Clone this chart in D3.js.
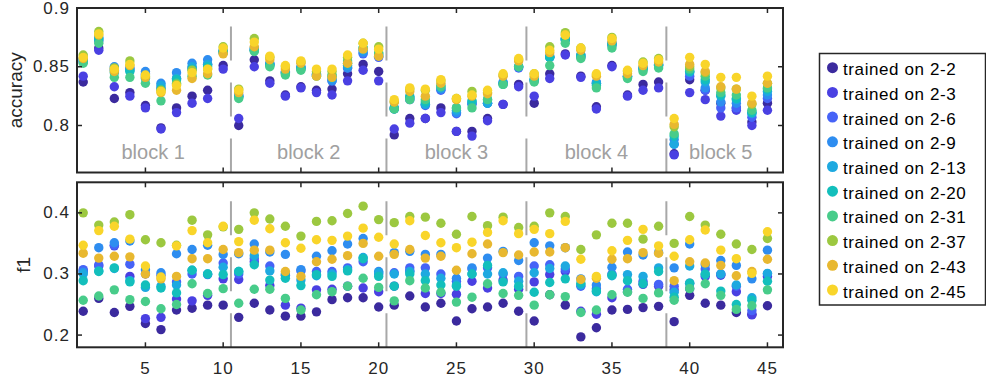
<!DOCTYPE html>
<html><head><meta charset="utf-8">
<script src="https://cdn.jsdelivr.net/npm/d3@7"></script>
<style>body{margin:0;background:#fff}svg{display:block;font-family:"Liberation Sans",Arial,sans-serif}</style>
</head><body><svg id="c" width="986" height="383"></svg>
<script>
const seriesNames = ["trained on 2-2","trained on 2-3","trained on 2-6","trained on 2-9","trained on 2-13","trained on 2-20","trained on 2-31","trained on 2-37","trained on 2-43","trained on 2-45"];
const colors = ["#3b2a9e","#4a40e2","#4663f7","#2e8df0","#1ea9e0","#13bfbc","#48cc8a","#9cc840","#e8b830","#f9d52a"];
const xValues = d3.range(1,46);
const xTicks = [5,10,15,20,25,30,35,40,45];
const accTicks = [0.8,0.85,0.9];
const f1Ticks = [0.2,0.3,0.4];
const blockBounds = [10.5,20.5,29.5,38.5];
const blockLabels = ["block 1","block 2","block 3","block 4","block 5"];
const blockCenters = [5.5,15.5,25,34,42];

// accuracy per x (rows = x 1..45, columns = series order)
const accRows = [
[.837,.842,.854,.857,.856,.855,.853,.860,.857,.858],
[.866,.864,.872,.874,.875,.873,.870,.880,.877,.878],
[.823,.833,.848,.850,.847,.845,.841,.849,.846,.848],
[.828,.825,.848,.849,.847,.846,.841,.855,.851,.852],
[.817,.815,.844,.846,.843,.840,.836,.842,.841,.843],
[.798,.797,.832,.836,.834,.831,.821,.830,.828,.829],
[.815,.811,.840,.845,.840,.839,.836,.835,.830,.834],
[.825,.819,.849,.853,.850,.848,.842,.847,.840,.845],
[.830,.823,.852,.856,.852,.850,.843,.848,.844,.848],
[.851,.848,.862,.864,.863,.863,.862,.867,.861,.866],
[.800,.806,.825,.826,.825,.824,.823,.831,.828,.830],
[.856,.850,.864,.866,.865,.864,.863,.874,.867,.871],
[.838,.836,.852,.853,.852,.851,.850,.858,.856,.859],
[.826,.825,.845,.846,.845,.844,.843,.850,.848,.851],
[.833,.832,.849,.850,.849,.848,.847,.854,.853,.855],
[.830,.828,.843,.844,.843,.843,.842,.846,.842,.848],
[.831,.826,.838,.838,.840,.842,.843,.846,.841,.848],
[.844,.838,.849,.849,.851,.853,.855,.858,.853,.860],
[.852,.847,.861,.862,.864,.866,.866,.870,.865,.870],
[.846,.838,.858,.859,.860,.861,.862,.867,.859,.865],
[.792,.797,.814,.815,.815,.814,.814,.820,.820,.822],
[.806,.802,.822,.823,.825,.824,.822,.831,.829,.832],
[.806,.806,.817,.818,.818,.820,.822,.830,.825,.831],
[.815,.811,.830,.831,.832,.834,.833,.838,.836,.839],
[.795,.795,.810,.811,.813,.815,.815,.823,.822,.823],
[.795,.791,.818,.819,.820,.821,.815,.829,.825,.826],
[.806,.804,.819,.819,.819,.822,.822,.828,.827,.830],
[.818,.818,.836,.837,.836,.835,.835,.843,.842,.844],
[.835,.833,.849,.850,.850,.850,.850,.856,.855,.857],
[.819,.825,.838,.839,.839,.839,.837,.844,.842,.844],
[.844,.840,.858,.859,.858,.858,.851,.867,.862,.864],
[.861,.860,.873,.874,.874,.873,.870,.879,.877,.877],
[.842,.841,.858,.860,.860,.859,.857,.866,.864,.866],
[.816,.814,.836,.837,.836,.834,.832,.843,.842,.844],
[.851,.850,.868,.870,.870,.869,.866,.875,.872,.874],
[.826,.825,.842,.842,.842,.841,.840,.846,.844,.847],
[.835,.830,.848,.849,.849,.848,.846,.854,.851,.853],
[.837,.832,.851,.852,.852,.851,.849,.857,.854,.856],
[.776,.775,.784,.788,.784,.791,.793,.799,.801,.806],
[.839,.828,.842,.845,.846,.846,.848,.850,.852,.858],
[.830,.822,.830,.832,.837,.839,.842,.845,.846,.852],
[.819,.808,.815,.820,.825,.826,.828,.832,.833,.841],
[.815,.813,.815,.819,.822,.823,.826,.831,.831,.841],
[.803,.800,.807,.810,.811,.811,.813,.818,.819,.825],
[.819,.813,.823,.826,.829,.831,.832,.836,.836,.842]
];
const f1Rows = [
[.239,.305,.307,.303,.300,.289,.257,.400,.334,.347],
[.260,.313,.315,.343,.305,.304,.264,.380,.326,.371],
[.237,.346,.347,.351,.309,.310,.274,.385,.329,.378],
[.247,.296,.316,.354,.289,.287,.258,.397,.328,.357],
[.219,.227,.300,.307,.278,.282,.255,.356,.300,.313],
[.209,.229,.298,.302,.280,.277,.243,.351,.292,.295],
[.241,.259,.287,.333,.282,.269,.250,.347,.296,.346],
[.244,.256,.300,.340,.306,.306,.284,.388,.325,.371],
[.249,.265,.299,.347,.300,.300,.268,.364,.325,.351],
[.249,.292,.318,.332,.311,.299,.276,.377,.340,.378],
[.229,.291,.300,.333,.304,.304,.252,.373,.335,.353],
[.252,.320,.325,.349,.330,.315,.275,.400,.339,.388],
[.241,.281,.313,.336,.305,.290,.275,.390,.339,.374],
[.231,.249,.298,.332,.300,.293,.260,.378,.304,.351],
[.231,.244,.305,.307,.290,.281,.241,.362,.296,.342],
[.238,.274,.304,.329,.297,.299,.266,.386,.320,.356],
[.258,.275,.304,.338,.300,.296,.271,.387,.324,.355],
[.261,.280,.310,.349,.307,.305,.280,.399,.330,.362],
[.261,.277,.320,.358,.327,.325,.293,.411,.350,.375],
[.246,.271,.300,.304,.302,.296,.278,.389,.329,.360],
[.249,.280,.302,.335,.300,.280,.256,.384,.332,.349],
[.264,.305,.310,.337,.304,.300,.289,.394,.340,.387],
[.246,.268,.310,.332,.300,.289,.277,.393,.326,.363],
[.252,.268,.300,.332,.293,.282,.270,.383,.329,.351],
[.223,.267,.288,.293,.282,.280,.254,.365,.306,.343],
[.243,.288,.308,.310,.300,.300,.262,.394,.333,.352],
[.246,.277,.310,.326,.300,.314,.284,.379,.349,.368],
[.252,.290,.300,.337,.302,.287,.268,.393,.335,.387],
[.239,.275,.296,.322,.288,.280,.265,.376,.331,.366],
[.223,.287,.313,.351,.302,.270,.249,.378,.336,.373],
[.266,.299,.315,.346,.309,.286,.266,.400,.336,.366],
[.249,.304,.308,.343,.313,.292,.263,.394,.343,.386],
[.197,.239,.280,.292,.282,.285,.237,.340,.291,.324],
[.212,.234,.276,.282,.271,.272,.241,.364,.293,.296],
[.241,.261,.300,.311,.297,.298,.266,.383,.324,.338],
[.242,.271,.275,.336,.299,.289,.270,.383,.325,.355],
[.245,.283,.288,.331,.296,.284,.260,.357,.335,.373],
[.247,.280,.283,.335,.310,.304,.269,.378,.334,.346],
[.222,.274,.280,.310,.270,.262,.257,.350,.289,.329],
[.265,.276,.285,.349,.313,.285,.276,.394,.320,.356],
[.252,.296,.308,.315,.299,.300,.284,.380,.318,.372],
[.249,.298,.300,.322,.300,.272,.265,.365,.314,.339],
[.237,.271,.280,.314,.282,.250,.242,.349,.297,.325],
[.234,.233,.240,.292,.261,.257,.248,.340,.304,.301],
[.248,.296,.300,.339,.301,.288,.274,.358,.324,.369]
];

const svg = d3.select("#c");
const L = 77, R = 783;
const x = d3.scaleLinear().domain([0.6,46]).range([L,R]);
const panels = [
  {rows: accRows, domain:[0.76,0.9], top:8, bottom:172.5, ticks:accTicks, fmt:d=>String(d), label:"accuracy", labelX:22, showX:false},
  {rows: f1Rows, domain:[0.18,0.45], top:182.3, bottom:347.3, ticks:f1Ticks, fmt:d=>String(d), label:"f1", labelX:30, showX:true}
];
const axisColor = "#262626";
const tickLen = 5;

panels.forEach(p => {
  const y = d3.scaleLinear().domain(p.domain).range([p.bottom,p.top]);
  const g = svg.append("g");
  // separators (dashed, from bottom up)
  blockBounds.forEach(b => {
    g.append("line").attr("x1",x(b)).attr("x2",x(b))
      .attr("y1",p.bottom).attr("y2",p.bottom-147)
      .attr("stroke","#a8a8a8").attr("stroke-width",2)
      .attr("stroke-dasharray","34 22");
  });
  if (!p.showX) {
    blockLabels.forEach((t,i) => {
      g.append("text").attr("x",x(blockCenters[i])).attr("y",152)
        .attr("text-anchor","middle").attr("dominant-baseline","central")
        .attr("font-size",20).attr("fill","#a0a0a0").text(t);
    });
  }
  // points
  seriesNames.forEach((s,si) => {
    g.append("g").selectAll("circle").data(xValues).join("circle")
      .attr("cx",d=>x(d)).attr("cy",(d,i)=>y(p.rows[i][si]))
      .attr("r",4.7).attr("fill",colors[si]);
  });
  // axes
  const ax = svg.append("g").attr("stroke",axisColor).attr("stroke-width",1.5);
  xTicks.forEach(t => {
    ax.append("line").attr("x1",x(t)).attr("x2",x(t)).attr("y1",p.bottom).attr("y2",p.bottom-tickLen);
    ax.append("line").attr("x1",x(t)).attr("x2",x(t)).attr("y1",p.top).attr("y2",p.top+tickLen);
  });
  p.ticks.forEach(t => {
    ax.append("line").attr("x1",L).attr("x2",L+tickLen).attr("y1",y(t)).attr("y2",y(t));
    ax.append("line").attr("x1",R).attr("x2",R-tickLen).attr("y1",y(t)).attr("y2",y(t));
    svg.append("text").attr("x",70).attr("y",y(t)).attr("text-anchor","end")
      .attr("dominant-baseline","central").attr("font-size",17).attr("letter-spacing","1px")
      .attr("fill",axisColor).text(p.fmt(t));
  });
  svg.append("rect").attr("x",L).attr("y",p.top).attr("width",R-L).attr("height",p.bottom-p.top)
    .attr("fill","none").attr("stroke",axisColor).attr("stroke-width",2);
  if (p.showX) {
    xTicks.forEach(t => {
      svg.append("text").attr("x",x(t)).attr("y",368).attr("text-anchor","middle")
        .attr("dominant-baseline","central").attr("font-size",17).attr("letter-spacing","1px")
        .attr("fill",axisColor).text(t);
    });
  }
  svg.append("text").attr("transform",`translate(${p.labelX},${(p.top+p.bottom)/2}) rotate(-90)`)
    .attr("text-anchor","middle").attr("font-size",19).attr("fill",axisColor).text(p.label);
});

// legend
const lg = svg.append("g");
lg.append("rect").attr("x",819.5).attr("y",53.5).attr("width",166).attr("height",251.5)
  .attr("fill","#fff").attr("stroke",axisColor).attr("stroke-width",1.5);
seriesNames.forEach((s,i) => {
  const yy = 67.7 + i*24.7;
  lg.append("circle").attr("cx",832.5).attr("cy",yy).attr("r",5.5).attr("fill",colors[i]);
  lg.append("text").attr("x",843).attr("y",yy+2).attr("dominant-baseline","central")
    .attr("font-size",17).attr("letter-spacing","0.6px").attr("fill","#000").text(s);
});
</script></body></html>
